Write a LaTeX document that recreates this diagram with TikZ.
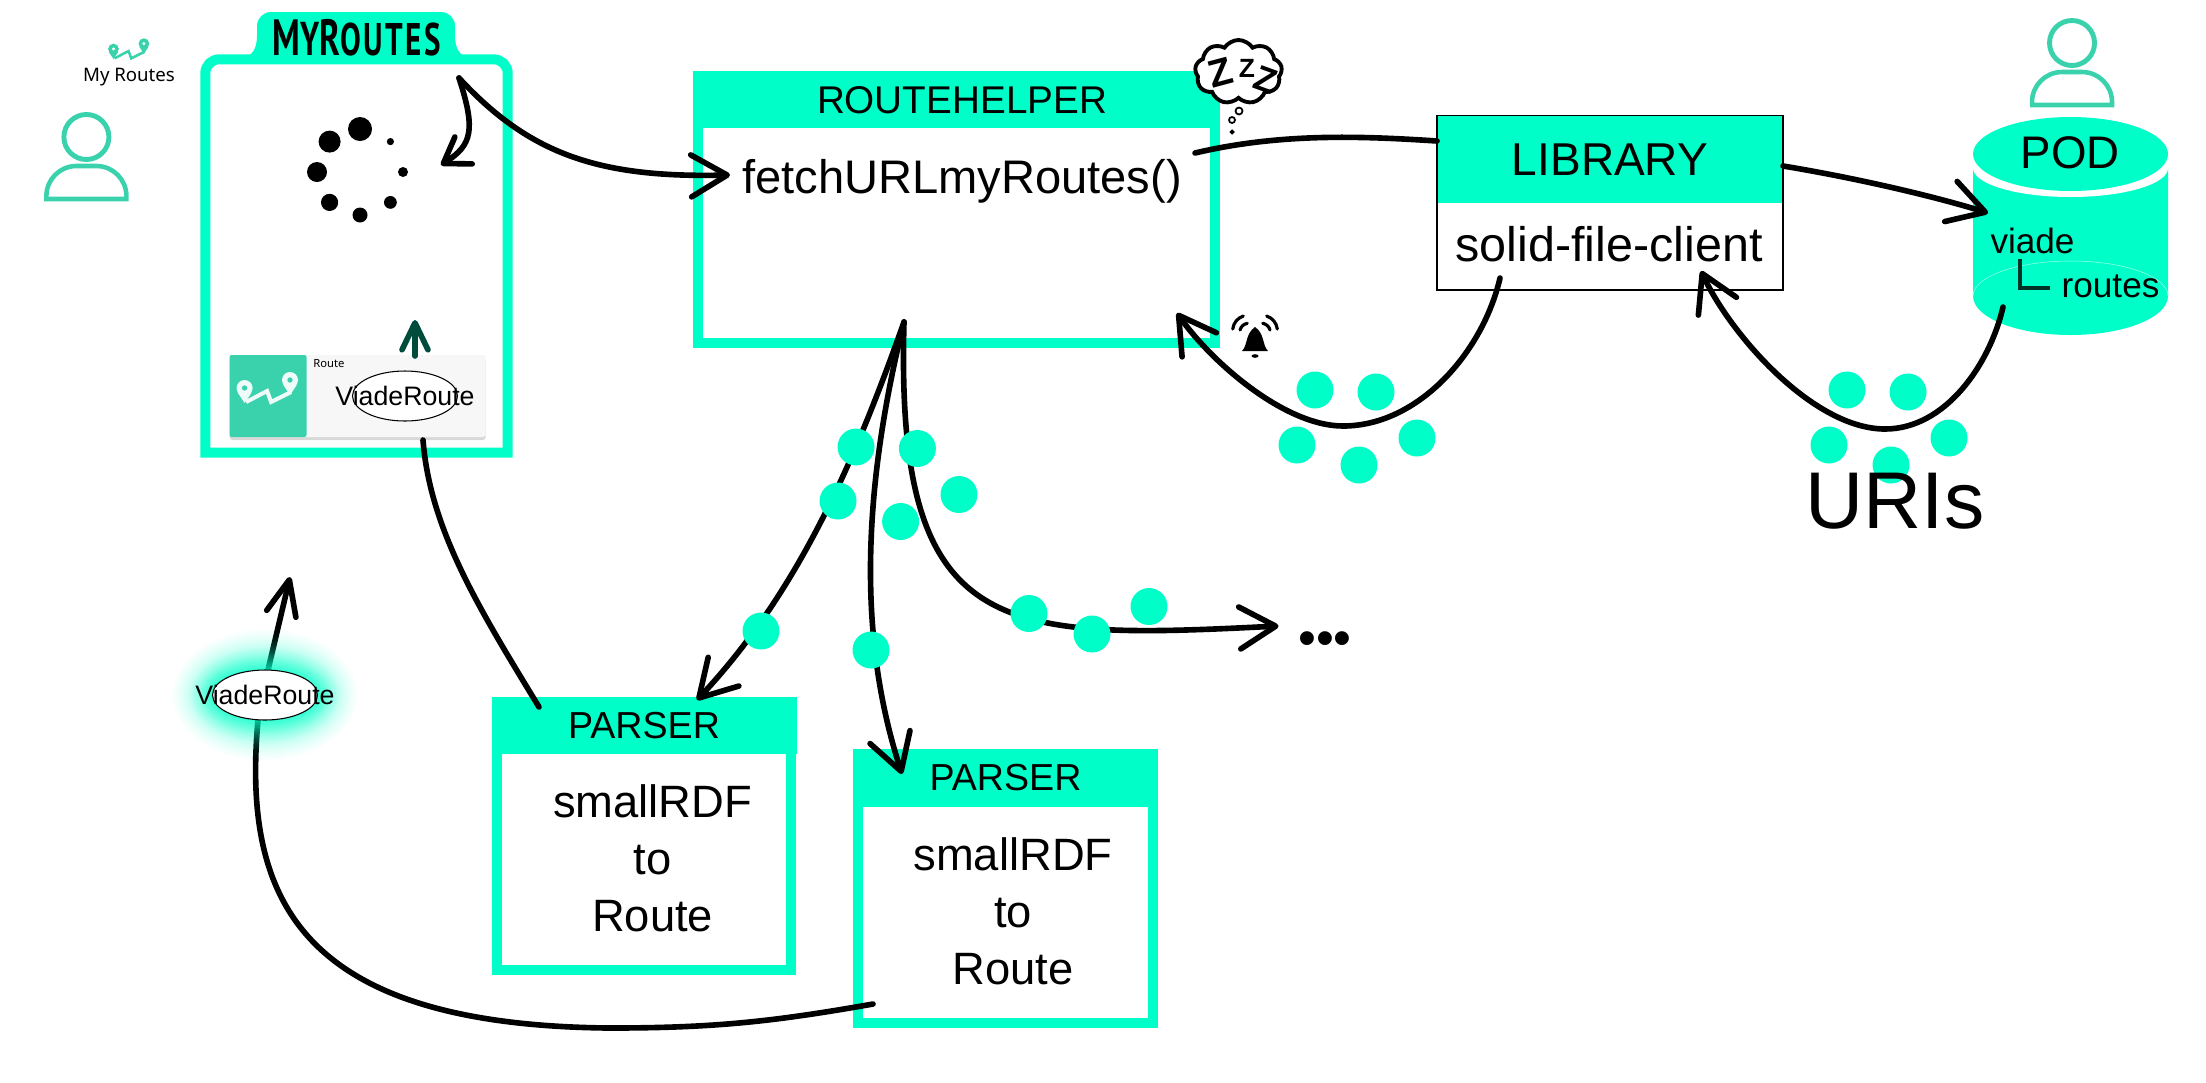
\documentclass[tikz,border=0pt]{standalone}
\usepackage{fontspec}
\usepackage{xcolor}
\usepackage{tikz}
\usetikzlibrary{arrows.meta, shapes.geometric, shapes.symbols, shadows}
\setmainfont{Liberation Sans}
\newfontfamily\titlefont{PT Sans}[LetterSpace=8]
\newfontfamily\cardfont{Noto Sans}
\newcommand{\sizept}[2]{\fontsize{#1}{#2}\selectfont}
\definecolor{neon}{HTML}{00FFC8}
\definecolor{teal}{HTML}{3AD2AC}
\tikzset{
    headbar/.style = {rectangle, fill=neon, inner sep=0pt},
    frame/.style = {rectangle, draw=neon, line width=1mm, inner sep=0pt},
    flow/.style = {line width=1.6pt, line cap=round, -{Straight Barb[length=3.6mm, width=4.2mm, round]}},
    plainflow/.style = {line width=1.6pt, line cap=round},
    spot/.style = {circle, fill=neon, minimum size=.37cm, inner sep=0pt},
    routeoval/.style = {ellipse, draw=black, line width=.3pt, fill=white, minimum width=1.05cm, minimum height=.5cm, inner sep=0pt, label={center:\sizept{7.6}{9}ViadeRoute}},
    pics/person/.style = {code={
        \draw[teal, line width=1.4pt] (0,0) circle (.225);
        \draw[teal, line width=1.3pt] (-.40,-.62) [rounded corners=.3cm] -- (-.40,-.29) -- (.40,-.29) [sharp corners] -- (.40,-.62) -- cycle;
    }},
    pics/routemark/.style 2 args = {code={
        \foreach \p in {(0,0), (.454,.08)} {
            \fill[#1, even odd rule] \p circle (.08) \p circle (.028);
            \fill[#1] \p ++(-.07,-.045) -- ++(.07,-.105) -- ++(.07,.105) -- cycle;
        }
        \draw[#1, line width=#2] (.015,-.14) -- (.225,-.03) -- (.265,-.14) -- (.465,-.04);
    }}
}

\begin{document}
\begin{tikzpicture}
    \useasboundingbox (0,0) rectangle (22.06,-10.82);

    %% user and menu entry
    \pic at (.864,-1.37) {person};
    \pic[scale=.67] at (1.135,-.49) {routemark={teal}{.25mm}};
    \node (menuEntry) at (1.29,-.77) {\cardfont\sizept{5.3}{7}My Routes};

    %% myroutes view
    \node (myroutes) [minimum width=3.01cm, minimum height=3.92cm] at (3.565,-2.56) {};
    \draw[neon, line width=1mm] (myroutes.south west) [rounded corners=.14cm] -- (myroutes.north west) -- (myroutes.north east) [sharp corners] -- (myroutes.south east) -- cycle;
    \fill[neon] (2.42,-.60) .. controls (2.52,-.55) and (2.57,-.5) .. (2.57,-.35) [rounded corners=.14cm] -- (2.57,-.12) -- (4.55,-.12) [sharp corners] -- (4.55,-.35) .. controls (4.55,-.5) and (4.6,-.55) .. (4.70,-.60) -- cycle;
    \node (myroutesTitle) at (3.57,-.38) {\scalebox{.68}[1]{\titlefont\bfseries\sizept{14.5}{16}M{\sizept{13.5}{16}Y}R{\sizept{13}{16}OUTES}}};

    %% spinner
    \coordinate (spinner) at (3.60,-1.72);
    \foreach \a/\r in {90/.12, 135/.11, 180/.10, 225/.086, 270/.075, 315/.064, 0/.05, 45/.036}
        \fill[black] (spinner) ++(\a:.43) circle (\r);

    %% route card
    \node (card) [rectangle, fill=black!3, rounded corners=.03cm, drop shadow={shadow xshift=0cm, shadow yshift=-.03cm, fill=black!30}, minimum width=2.56cm, minimum height=.82cm, inner sep=0pt] at (3.577,-3.96) {};
    \node (cardIcon) [rectangle, fill=teal, rounded corners=.02cm, minimum width=.77cm, minimum height=.82cm, inner sep=0pt] at (2.68,-3.96) {};
    \pic at (2.446,-3.88) {routemark={white!92!teal}{.4mm}};
    \node (cardLabel) at (3.29,-3.64) {\cardfont\bfseries\sizept{3.2}{4}Route};
    \node (cardRoute) [routeoval] at (4.05,-3.96) {};

    %% routehelper
    \node (helper) [frame, minimum width=5.17cm, minimum height=2.67cm] at (9.565,-2.095) {};
    \node (helperHead) [headbar, minimum width=5.27cm, minimum height=.56cm] at (9.565,-1.00) {\sizept{11}{13}\hspace*{.11cm}ROUTEHELPER};
    \node (fetch) at (9.62,-1.81) {\sizept{13.4}{16}fetchURLmyRoutes()};

    %% sleeping
    \node (zzzCloud) [cloud, cloud puffs=9, cloud puff arc=115, aspect=1.35, draw=black, line width=1.1pt, fill=white, minimum width=.87cm, minimum height=.64cm, inner sep=0pt] at (12.385,-.72) {};
    \foreach \x/\y/\t/\s [count=\i] in {12.20/-.73/15/11, 12.47/-.68/0/7.5, 12.66/-.80/-20/10}
        \node (zzz\i) [rotate=\t] at (\x,\y) {\bfseries\sizept{\s}{\s}Z};
    \foreach \x/\y/\r in {12.39/-1.11/.035, 12.32/-1.20/.03, 12.32/-1.32/.015}
        \draw[black, line width=.5pt] (\x,\y) circle (\r);

    %% library
    \node (library) [rectangle, draw=black, line width=.4pt, fill=white, minimum width=3.46cm, minimum height=1.74cm, inner sep=0pt] at (16.10,-2.03) {};
    \node (libraryHead) [headbar, minimum width=3.44cm, minimum height=.87cm] at (16.10,-1.595) {\sizept{13.1}{15}LIBRARY};
    \node (libraryName) at (16.09,-2.44) {\sizept{13.8}{17}solid-file-client};

    %% pod
    \fill[neon] (19.73,-1.68) -- (19.73,-2.96) arc[start angle=180, end angle=360, x radius=.975, y radius=.39] -- (21.68,-1.68) -- cycle;
    \draw[white!60!neon, line width=.15pt] (19.73,-2.96) arc[start angle=180, end angle=0, x radius=.975, y radius=.35];
    \fill[white] (19.73,-1.68) arc[start angle=180, end angle=360, x radius=.975, y radius=.29] -- (21.68,-1.43) -- (19.73,-1.43) -- cycle;
    \fill[neon] (20.705,-1.54) ellipse (.975 and .37);
    \node (pod) at (20.70,-1.53) {\sizept{13}{15}POD};
    \node (podViade) at (20.325,-2.41) {\sizept{10}{12}viade};
    \node (podRoutes) at (21.105,-2.86) {\sizept{10}{12}routes};
    \draw[black!80!neon, line width=1pt] (20.20,-2.59) -- (20.20,-2.88) -- (20.50,-2.88);
    \pic at (20.72,-.43) {person};

    %% bell
    \begin{scope}[shift={(12.55,-3.27)}]
        \fill[black] (-.13,-.24) .. controls (-.07,-.18) and (-.1,-.07) .. (0,0) .. controls (.1,-.07) and (.07,-.18) .. (.13,-.24) -- cycle;
        \fill[black] (0,-.29) ellipse (.035 and .018);
        \draw[black, line width=.9pt, line cap=round] (-.223,-.02) to[bend left=30] (-.117,.11);
        \draw[black, line width=.9pt, line cap=round] (-.15,-.03) to[bend left=30] (-.077,.037);
        \draw[black, line width=.9pt, line cap=round] (.223,-.02) to[bend right=30] (.117,.11);
        \draw[black, line width=.9pt, line cap=round] (.15,-.03) to[bend right=30] (.077,.037);
    \end{scope}

    %% parsers
    \node (parserOne) [frame, minimum width=2.945cm, minimum height=2.685cm] at (6.44,-8.36) {};
    \node (parserOneHead) [headbar, minimum width=3.05cm, minimum height=.57cm] at (6.44,-7.255) {\sizept{10.7}{12}PARSER};
    \node (parserOneBody) [align=center, font=\sizept{12.9}{16.2}] at (6.527,-8.58) {smallRDF\\to\\Route};

    \node (parserTwo) [frame, minimum width=2.95cm, minimum height=2.68cm] at (10.055,-8.89) {};
    \node (parserTwoHead) [headbar, minimum width=3.05cm, minimum height=.575cm] at (10.055,-7.78) {\sizept{10.7}{12}PARSER};
    \node (parserTwoBody) [align=center, font=\sizept{12.9}{16.2}] at (10.13,-9.11) {smallRDF\\to\\Route};

    %% free ends of the connectors
    \coordinate (cusp) at (4.59,-.78);
    \coordinate (spinnerIn) at (4.41,-1.65);
    \coordinate (fetchIn) at (7.30,-1.75);
    \coordinate (fetchOut) at (11.95,-1.53);
    \coordinate (libraryIn) at (14.37,-1.41);
    \coordinate (libraryOut) at (17.83,-1.66);
    \coordinate (podIn) at (19.88,-2.13);
    \coordinate (libraryDown) at (15.00,-2.78);
    \coordinate (libraryDip) at (13.43,-4.26);
    \coordinate (helperIn) at (11.77,-3.13);
    \coordinate (podDown) at (20.03,-3.07);
    \coordinate (podDip) at (18.85,-4.29);
    \coordinate (libraryBack) at (17.01,-2.71);
    \coordinate (helperOut) at (9.04,-3.22);
    \coordinate (parserOneIn) at (6.97,-7.00);
    \coordinate (parserTwoIn) at (9.02,-7.74);
    \coordinate (moreIn) at (12.785,-6.26);
    \coordinate (cardOut) at (4.23,-4.40);
    \coordinate (parserOneOut) at (5.39,-7.07);
    \coordinate (cardUp) at (4.15,-3.56);
    \coordinate (cardTop) at (4.15,-3.20);
    \coordinate (parserTwoOut) at (8.73,-10.04);
    \coordinate (floatDip) at (6.09,-10.28);
    \coordinate (floatRoute) at (2.65,-6.95);
    \coordinate (floatBottom) at (2.58,-7.20);
    \coordinate (floatTop) at (2.68,-6.70);
    \coordinate (floatEnd) at (2.90,-5.77);

    %% connectors
    \draw[flow, -{Straight Barb[length=2.4mm, width=3.2mm, round]}] (cusp) .. controls (4.76,-1.30) and (4.72,-1.45) .. (spinnerIn);
    \draw[flow] (cusp) .. controls (5.30,-1.55) and (6.00,-1.78) .. (fetchIn);
    \draw[plainflow] (fetchOut) .. controls (12.80,-1.33) and (13.60,-1.36) .. (libraryIn);
    \draw[flow] (libraryOut) .. controls (18.50,-1.77) and (19.30,-1.95) .. (podIn);
    \draw[flow] (libraryDown) to[out=-103, in=0, looseness=.9] (libraryDip) to[out=180, in=-55, looseness=.75] (helperIn);
    \draw[flow] (podDown) to[out=-103, in=0, looseness=.9] (podDip) to[out=180, in=-65, looseness=.75] (libraryBack);
    \draw[flow] (helperOut) .. controls (8.55,-4.60) and (8.00,-5.90) .. (parserOneIn);
    \draw[flow] (helperOut) .. controls (8.55,-5.20) and (8.65,-6.60) .. (parserTwoIn);
    \draw[flow] (helperOut) .. controls (8.95,-6.40) and (10.00,-6.40) .. (moreIn);
    \draw[plainflow] (cardOut) .. controls (4.30,-5.30) and (4.80,-6.10) .. (parserOneOut);
    \draw[flow, black!70!neon, -{Straight Barb[length=2.7mm, width=2.6mm, round]}] (cardUp) -- (cardTop);
    \draw[plainflow] (parserTwoOut) to[out=190, in=0] (floatDip) .. controls (3.00,-10.25) and (2.42,-9.00) .. (floatBottom);
    \draw[flow, -{Straight Barb[length=3.5mm, width=3mm, round]}] (floatTop) -- (floatEnd);

    %% floating route
    \foreach \g in {1,...,24} {
        \pgfmathsetmacro{\haloalpha}{.015+.15*(1-\g/24)*(1-\g/24)}
        \fill[neon, opacity=\haloalpha] (floatRoute) ellipse ({.52+.017*\g} and {.25+.017*\g});
    }
    \node (floatingRoute) [routeoval] at (floatRoute) {};

    %% uris on their way
    \foreach \x/\y [count=\i] in {13.15/-3.90, 13.76/-3.92, 12.97/-4.45, 14.17/-4.38, 13.59/-4.65}
        \node (librarySpot\i) [spot] at (\x,\y) {};
    \foreach \x/\y [count=\i] in {18.47/-3.90, 19.08/-3.92, 18.29/-4.45, 19.49/-4.38, 18.91/-4.65}
        \node (podSpot\i) [spot] at (\x,\y) {};
    \foreach \x/\y [count=\i] in {8.56/-4.47, 9.174/-4.485, 8.38/-5.01, 9.59/-4.945, 9.006/-5.215, 7.61/-6.31, 8.71/-6.50, 10.29/-6.135, 10.92/-6.34, 11.49/-6.065}
        \node (routeSpot\i) [spot] at (\x,\y) {};
    \node (uris) at (18.95,-5.01) {\sizept{22.9}{26}URIs};
    \node (more) at (13.25,-6.44) {\sizept{14.5}{17}•••};
\end{tikzpicture}
\end{document}
